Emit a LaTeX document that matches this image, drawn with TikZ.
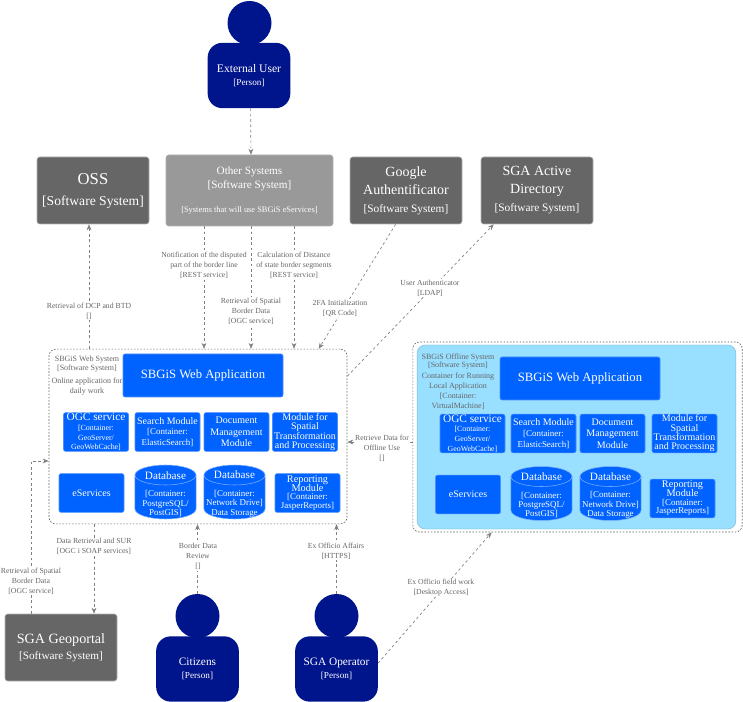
\documentclass[tikz,border=0pt]{standalone}
\usepackage{fontspec}
\setmainfont{Liberation Serif}
\usepackage{xcolor}
\usetikzlibrary{arrows.meta, backgrounds}

\definecolor{personblue}{HTML}{00148C}
\definecolor{extgray}{HTML}{666666}
\definecolor{othergray}{HTML}{999999}
\definecolor{modblue}{HTML}{0062FF}
\definecolor{offlinecyan}{HTML}{99DFFF}
\definecolor{relgray}{HTML}{808080}

\newcommand{\fsz}[2]{\fontsize{#1}{#2}\selectfont\lineskiplimit=-20pt}
\newcommand{\ttl}[1]{\fontsize{#1}{#1}\selectfont}
\newcommand{\dbdrum}[1]{
	\draw[dbline] ([shift={(-22.9pt,12.75pt)}]#1) arc[start angle=180, end angle=0, x radius=22.9pt, y radius=7.5pt] -- ++(0,-25.5pt) arc[start angle=0, end angle=-180, x radius=22.9pt, y radius=7.5pt] -- cycle;
	\draw[dbline, fill=none] ([shift={(-22.9pt,12.75pt)}]#1) arc[start angle=180, end angle=360, x radius=22.9pt, y radius=7.5pt];
}

\tikzset{
	extbox/.style={rectangle, rounded corners=2pt, fill=extgray, draw=black!30, line width=.4pt, text=white, align=center, minimum width=84pt, minimum height=50.25pt, inner sep=0pt},
	otherbox/.style={extbox, fill=othergray, minimum width=125.25pt, minimum height=53.25pt},
	personhead/.style={circle, fill=personblue, minimum size=33pt, inner sep=0pt},
	personbody/.style={rectangle, rounded corners=11pt, fill=personblue, text=white, align=center, minimum width=62pt, minimum height=49pt, inner sep=0pt, font=\fsz{6.9}{9.75}},
	appbox/.style={rectangle, rounded corners=1.5pt, fill=modblue, draw=modblue!70!white, line width=.4pt, text=white, align=center, minimum width=120pt, minimum height=32.25pt, inner sep=0pt, font=\fsz{9.5}{11}},
	modbox/.style={appbox, minimum width=48.75pt, minimum height=29pt, font=\fsz{6.7}{8}},
	dbline/.style={fill=modblue, draw=modblue!50!white, line width=.4pt},
	dbtext/.style={text=white, align=center, inner sep=0pt, font=\fsz{6.7}{7.1}},
	sysbound/.style={rectangle, rounded corners=5pt, draw=black!60, line width=.5pt, dash pattern=on 1.2pt off 1.2pt, inner sep=0pt},
	rel/.style={draw=relgray, line width=.5pt, dash pattern=on 2pt off 2pt, -{Stealth[length=4.5pt,width=3.6pt]}},
	rellabel/.style={fill=white, text=black!60, align=center, inner sep=.6pt, font=\fsz{5.8}{7.5}},
	syslabel/.style={text=black!60, align=center, inner sep=0pt, font=\fsz{6}{7.5}},
}

\begin{document}
\begin{tikzpicture}[x=.75pt, y=-.75pt]
	\useasboundingbox (0,0) rectangle (743,702);

	% people
	\node[personhead] (exthead) at (249.5,23) {};
	\node[personbody] (extuser) at (249,75.5) {\ttl{8.7}External User\\{[Person]}};
	\node[personhead] (citizenhead) at (197.5,616) {};
	\node[personbody] (citizens) at (197.5,669) {\ttl{8.5}Citizens\\{[Person]}};
	\node[personhead] (operatorhead) at (336.5,616) {};
	\node[personbody] (operator) at (336.5,669) {\ttl{8.5}SGA Operator\\{[Person]}};

	% external systems
	\node[extbox, font=\fsz{10.2}{15.75}] (oss) at (93,190.5) {\ttl{12.5}OSS\\{[Software System]}};
	\node[otherbox, font=\fsz{8.4}{10.5}] (other) at (249.5,190.5) {Other Systems\\{[Software System]}\\[7.5pt]\ttl{6.3}{[Systems that will use SBGiS eServices]}};
	\node[extbox, font=\fsz{8.5}{13.5}] (google) at (406,190.5) {\ttl{10.5}Google\\\ttl{10.5}Authentificator\\{[Software System]}};
	\node[extbox, font=\fsz{8.5}{13.5}] (adir) at (537,190.5) {\ttl{10.5}SGA Active\\\ttl{10.5}Directory\\{[Software System]}};
	\node[extbox, font=\fsz{8.4}{12}] (geoportal) at (61,647.5) {\ttl{10.6}SGA Geoportal\\{[Software System]}};

	% web system
	\node[sysbound, minimum width=223.5pt, minimum height=131pt] (websys) at (198,436.5) {};
	\node[syslabel] (weblabel) at (87,375.5) {SBGiS Web System\\[-1pt]{[Software System]}\\[2pt]Online application for\\daily work};
	\node[appbox] (webapp) at (203,375.5) {SBGiS Web Application};
	\node[modbox, font=\fsz{5.9}{7.3}] (webogc) at (96,432) {\ttl{8.5}OGC service\\{[Container:}\\GeoServer/\\GeoWebCache]};
	\node[modbox] (websearch) at (167.5,432) {\ttl{7.5}Search Module\\{[Container:}\\ElasticSearch]};
	\node[modbox, font=\fsz{7.5}{8.5}] (webdoc) at (236.5,432) {Document\\Management\\Module};
	\node[modbox, font=\fsz{7.5}{7}] (webspatial) at (305,432) {Module for\\Spatial\\Transformation\\and Processing};
	\node[modbox, font=\fsz{7.5}{9}] (webeserv) at (91.5,493) {eServices};
	\coordinate (webdb) at (165.5,492);
	\dbdrum{webdb}
	\node[dbtext] (webdbtext) at (165.5,494) {\ttl{8.4}Database\\[6pt]{[Container:}\\PostgreSQL/\\PostGIS]};
	\coordinate (webdrive) at (234.5,492);
	\dbdrum{webdrive}
	\node[dbtext] (webdrivetext) at (234.5,494) {\ttl{8.4}Database\\[6pt]{[Container:}\\Network Drive]\\Data Storage};
	\node[modbox, font=\fsz{6.7}{6.5}] (webreport) at (307.5,493) {\ttl{7.7}Reporting\\\ttl{7.7}Module\\{[Container:}\\JasperReports]};

	% offline system
	\node[rectangle, rounded corners=6pt, fill=offlinecyan, draw=offlinecyan!80!black, line width=.3pt, minimum width=239pt, minimum height=138pt, inner sep=0pt] (offfill) at (576.5,437) {};
	\node[sysbound, minimum width=247pt, minimum height=142.5pt] (offsys) at (577.5,437) {};
	\node[syslabel] (offlabel) at (458,381.5) {SBGiS Offline System\\[-1.5pt]{[Software System]}\\[1pt]Container for Running\\Local Application\\{[Container:}\\VirtualMachine]};
	\node[appbox] (offapp) at (580,378.5) {SBGiS Web Application};
	\node[modbox, font=\fsz{5.9}{7.3}] (offogc) at (472.5,433.5) {\ttl{8.5}OGC service\\{[Container:}\\GeoServer/\\GeoWebCache]};
	\node[modbox] (offsearch) at (543.5,433.5) {\ttl{7.5}Search Module\\{[Container:}\\ElasticSearch]};
	\node[modbox, font=\fsz{7.5}{8.5}] (offdoc) at (612.5,433.5) {Document\\Management\\Module};
	\node[modbox, font=\fsz{7.5}{7}] (offspatial) at (684.5,433.5) {Module for\\Spatial\\Transformation\\and Processing};
	\node[modbox, font=\fsz{7.5}{9}] (offeserv) at (468,494.5) {eServices};
	\coordinate (offdb) at (541.5,493.5);
	\dbdrum{offdb}
	\node[dbtext] (offdbtext) at (541.5,495.5) {\ttl{8.4}Database\\[6pt]{[Container:}\\PostgreSQL/\\PostGIS]};
	\coordinate (offdrive) at (610.5,493.5);
	\dbdrum{offdrive}
	\node[dbtext] (offdrivetext) at (610.5,495.5) {\ttl{8.4}Database\\[6pt]{[Container:}\\Network Drive]\\Data Storage};
	\node[modbox, font=\fsz{6.7}{6.5}] (offreport) at (682.5,498.5) {\ttl{7.7}Reporting\\\ttl{7.7}Module\\{[Container:}\\JasperReports]};

	% labels on the connectors
	\node[rellabel] (lbdcp) at (89,311) {Retrieval of DCP and BTD\\{[]}};
	\node[rellabel] (lbnotify) at (204,265) {Notification of the disputed\\part of the border line\\{[REST service]}};
	\node[rellabel] (lbborder) at (251,311) {Retrieval of Spatial\\Border Data\\{[OGC service]}};
	\node[rellabel] (lbdist) at (294,265) {Calculation of Distance\\of state border segments\\{[REST service]}};
	\node[rellabel] (lbauth) at (430,288) {User Authenticator\\{[LDAP]}};
	\node[rellabel] (lbqr) at (340,308) {2FA Initialization\\{[QR Code]}};
	\node[rellabel] (lboffline) at (382,448) {Retrieve Data for\\Offline Use\\{[]}};
	\node[rellabel] (lbgeo) at (31,581) {Retrieval of Spatial\\Border Data\\{[OGC service]}};
	\node[rellabel] (lbsur) at (94,546.5) {Data Retrieval and SUR\\{[OGC i SOAP services]}};
	\node[rellabel] (lbreview) at (198,556.5) {Border Data\\Review\\{[]}};
	\node[rellabel] (lbaffairs) at (336,551) {Ex Officio Affairs\\{[HTTPS]}};
	\node[rellabel] (lbfield) at (441,588) {Ex Officio field work\\{[Desktop Access]}};
	\coordinate (offret) at (380,442);
	\coordinate (geoturn) at (31,461);

	% connectors
	\begin{scope}[on background layer]
	\draw[rel] ([xshift=1.2pt]extuser.south) -- ([xshift=1.1pt]other.north);
	\draw[rel] (websys.north -| lbdcp) -- (oss.south -| lbdcp);
	\draw[rel] (other.south -| lbnotify) -- (websys.north -| lbnotify);
	\draw[rel] (other.south -| lbborder) -- (websys.north -| lbborder);
	\draw[rel] (other.south -| lbdist) -- (websys.north -| lbdist);
	\draw[rel] (google.253) -- (websys.36);
	\draw[rel] (websys.22) -- (adir.218);
	\draw[rel] (offsys.west |- offret) -- (websys.east |- offret);
	\draw[rel] (geoportal.north -| geoturn) -- (geoturn) -- (websys.west |- geoturn);
	\draw[rel] (websys.south -| lbsur) -- (geoportal.north -| lbsur);
	\draw[rel] (citizenhead) -- (websys.south -| citizenhead);
	\draw[rel] (operatorhead) -- (websys.south -| operatorhead);
	\draw[rel] (operator.8) -- (offsys.228);
	\end{scope}
\end{tikzpicture}
\end{document}
